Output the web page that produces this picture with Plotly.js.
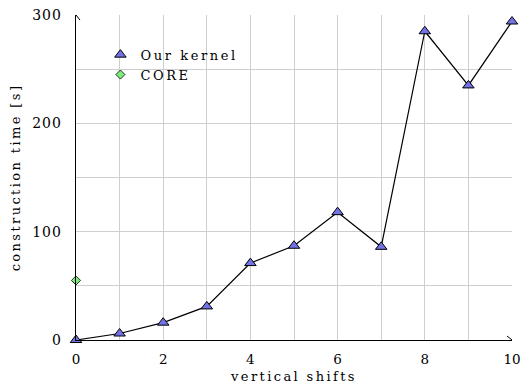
<!DOCTYPE html>
<html><head><meta charset="utf-8">
<script src="https://cdn.plot.ly/plotly-3.0.1.min.js"></script>
<style>
html,body{margin:0;padding:0;background:#fff}#chart{width:521px;height:387px}
.xtitle,.ytitle{letter-spacing:2.4px}
.legendtext{letter-spacing:2.6px}
.ytick text{letter-spacing:1px}
</style>
</head><body><div id="chart"></div>
<script>
const shifts = [0,1,2,3,4,5,6,7,8,9,10];
const kernelTime = [0,6,16,31,71,87,118,86,285,235,294];
const coreShifts = [0];
const coreTime = [55];
const xTicks = [0,2,4,6,8,10];
const yTicks = [0,100,200,300];

const fam = 'DejaVu Serif, serif';
const gridColor = '#cfcfcf';

const traces = [
  {x:shifts, y:kernelTime, mode:'lines', type:'scatter', showlegend:false,
   line:{color:'#000', width:1.2}, cliponaxis:false, hoverinfo:'skip'},
  {x:shifts, y:kernelTime, name:'Our kernel', mode:'markers', type:'scatter',
   marker:{symbol:'triangle-up', size:10, color:'#7272e6', line:{color:'#000', width:1}},
   cliponaxis:false},
  {x:coreShifts, y:coreTime, name:'CORE', mode:'markers', type:'scatter',
   marker:{symbol:'diamond', size:7, color:'#7ced7c', line:{color:'#000', width:0.8}},
   cliponaxis:false}
];

const layout = {
  width:521, height:387,
  margin:{l:76, r:9, t:15, b:47},
  paper_bgcolor:'#fff', plot_bgcolor:'#fff',
  font:{family:fam, size:13, color:'#000'},
  showlegend:true,
  legend:{x:0.056, y:0.924, xanchor:'left', yanchor:'top', bgcolor:'rgba(0,0,0,0)',
          font:{family:fam, size:13}, tracegroupgap:0, itemwidth:30},
  xaxis:{range:[0,10], tickvals:xTicks, ticktext:xTicks.map(String), showgrid:true, gridcolor:gridColor, gridwidth:1,
         minor:{dtick:1, showgrid:true, gridcolor:gridColor, gridwidth:1},
         zeroline:false, showline:true, linecolor:'#000', linewidth:1.3, ticks:'', ticklen:0,
         ticklabeloverflow:'allow', ticklabelstandoff:6,
         title:{text:'vertical shifts', font:{family:fam, size:13}, standoff:6},
         tickfont:{family:fam, size:13.5}},
  yaxis:{range:[0,300], tickvals:yTicks, ticktext:yTicks.map(String), showgrid:true, gridcolor:gridColor, gridwidth:1,
         minor:{dtick:50, showgrid:true, gridcolor:gridColor, gridwidth:1},
         zeroline:false, showline:true, linecolor:'#000', linewidth:1.3, ticks:'', ticklen:0,
         ticklabeloverflow:'allow', ticklabelstandoff:10,
         title:{text:'construction time [s]', font:{family:fam, size:13}, standoff:8},
         tickfont:{family:fam, size:14}},
  shapes:[
    {type:'path', xref:'x', yref:'y', xsizemode:'pixel', ysizemode:'pixel', xanchor:10, yanchor:0,
     path:'M-5,4 L0,0 L-5,-4', line:{color:'#000', width:1}},
    {type:'path', xref:'x', yref:'y', xsizemode:'pixel', ysizemode:'pixel', xanchor:0, yanchor:300,
     path:'M-4,-5 L0,0 L4,-5', line:{color:'#000', width:1}}
  ]
};
Plotly.newPlot('chart', traces, layout, {displayModeBar:false, staticPlot:true});
</script></body></html>
